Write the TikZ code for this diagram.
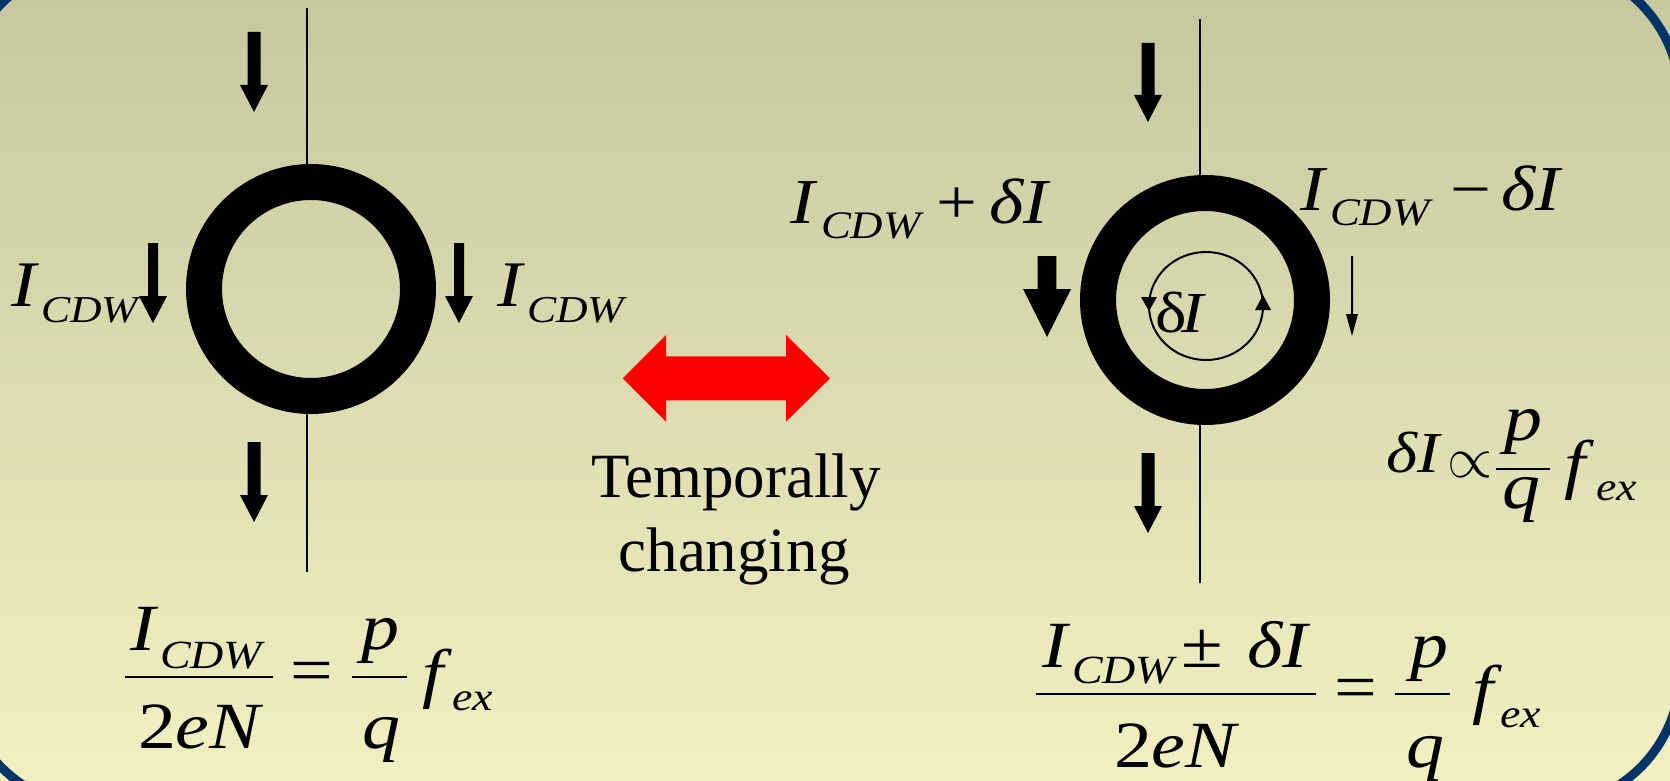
\RequirePackage{fix-cm}
\documentclass[tikz,border=0pt]{standalone}
\usepackage{fontspec}
\setmainfont{Liberation Serif}
\usetikzlibrary{arrows.meta}
\definecolor{bgtop}{RGB}{199,200,160}
\definecolor{bgbot}{RGB}{242,240,193}
\definecolor{frameblue}{RGB}{0,51,102}
% horizontally stretched math-like text: italic / upright
\newcommand\SX[1]{\scalebox{1.15}[1]{#1}}
\newcommand\MI[2]{\SX{\fontsize{#1}{#1}\selectfont\itshape #2}}
\newcommand\MU[2]{\SX{\fontsize{#1}{#1}\selectfont #2}}
% x, ytop, ytip, shaft half width, head half width, head length
\newcommand\BlockDown[6]{%
  \fill ({#1-#4},#2) -- ({#1+#4},#2) -- ({#1+#4},{#3-#6}) -- ({#1+#5},{#3-#6})
     -- (#1,#3) -- ({#1-#5},{#3-#6}) -- ({#1-#4},{#3-#6}) -- cycle;}
\begin{document}
\begin{tikzpicture}[x=1pt,y=-1pt,
  txt/.style={anchor=base west,inner sep=0pt,outer sep=0pt},
  ctxt/.style={anchor=base,inner sep=0pt,outer sep=0pt},
  wire/.style={line width=2.5pt},
  fbar/.style={line width=2.6pt},
  ring/.style={circle,draw=black,line width=36pt,minimum size=214pt,inner sep=0pt},
  loopline/.style={line width=2pt}]
\useasboundingbox (0,0) rectangle (1670,781);
\shade[top color=bgtop,bottom color=bgbot] (0,0) rectangle (1670,781);
\draw[frameblue,line width=9pt,rounded corners=135pt] (-38,-36) rectangle (1680,807);

% wires
\coordinate (wLt) at (307,8);  \coordinate (wLm) at (307,185);
\coordinate (wLn) at (307,395); \coordinate (wLb) at (307,572);
\coordinate (wRt) at (1200,19); \coordinate (wRm) at (1200,195);
\coordinate (wRn) at (1200,405); \coordinate (wRb) at (1200,583);
\draw[wire] (wLt) -- (wLm);
\draw[wire] (wLn) -- (wLb);
\draw[wire] (wRt) -- (wRm);
\draw[wire] (wRn) -- (wRb);
\node[ring] (ringL) at (311,289) {};
\node[ring] (ringR) at (1205,300) {};

% block arrows
\BlockDown{254}{32}{112}{6.5}{14}{27}
\BlockDown{254}{442}{522}{6.5}{14}{27}
\BlockDown{1148}{43}{122}{6.5}{14}{27}
\BlockDown{1148}{453}{533}{6.5}{14}{27}
\BlockDown{153}{243}{323}{5}{14}{27}
\BlockDown{459}{243}{323}{5}{14}{27}
\BlockDown{1047}{256}{337}{9.3}{24}{48}
\BlockDown{1352}{256}{336}{1}{6}{22}

% red double arrow
\fill[red] (622.7,378.3) -- (666,335) -- (666,356.3) -- (786,356.3) -- (786,335)
  -- (830,378.3) -- (786,421.7) -- (786,400.3) -- (666,400.3) -- (666,421.7) -- cycle;
\node[ctxt,font=\fontsize{63}{63}\selectfont] (tmp1) at (736,497) {Temporally};
\node[ctxt,font=\fontsize{63}{63}\selectfont] (tmp2) at (734,571) {changing};

% loop delta I
\coordinate (loopc) at (1206,306);
\draw[loopline] (loopc) ellipse[x radius=57, y radius=54];
\fill (1141,297) -- (1157,297) -- (1149,311) -- cycle;
\fill (1255,310) -- (1271,310) -- (1263,295) -- cycle;
\node[txt] (dId) at (1155,332) {\MU{58}{δ}};
\node[txt] (dII) at (1181,332) {\MI{58}{I}};

% labels beside the left ring
\node[txt] (lLI) at (12,306) {\MI{65}{I}};
\node[txt] (lLs) at (41,322) {\MI{38}{CDW}};
\node[txt] (rLI) at (497,306) {\MI{65}{I}};
\node[txt] (rLs) at (527,322) {\MI{38}{CDW}};

% labels beside the right ring
\node[txt] (pI) at (790,223) {\MI{64}{I}};
\node[txt] (ps) at (821,238) {\MI{39}{CDW}};
\node[txt] (pp) at (936,223) {\MU{63}{+}};
\node[txt] (pd) at (989,223) {\MI{64}{δI}};
\node[txt] (mI) at (1300,210) {\MI{64}{I}};
\node[txt] (ms) at (1330,225) {\MI{39}{CDW}};
\node[txt] (mm) at (1450,210) {\MU{63}{−}};
\node[txt] (md) at (1501,210) {\MI{64}{δI}};

% delta I proportional to p/q f_ex
\node[txt] (prD) at (1386,472) {\MI{58}{δI}};
\node[inner sep=0pt] (prP) at (1470,465) {\fontsize{58}{58}\selectfont$\propto$};
\node[txt] (prp) at (1504,440) {\MI{66}{p}};
\coordinate (prb1) at (1496,469); \coordinate (prb2) at (1550,469);
\draw[fbar] (prb1) -- (prb2);
\node[txt] (prq) at (1502,508) {\MI{66}{q}};
\node[txt] (prf) at (1564,486) {\MI{66}{f}};
\node[txt] (prex) at (1596,500) {\MI{40}{ex}};

% left formula
\node[txt] (numI) at (130,650) {\MI{66}{I}};
\node[txt] (numS) at (160,668) {\MI{40}{CDW}};
\coordinate (bL1) at (125,677); \coordinate (bL2) at (273,677);
\draw[fbar] (bL1) -- (bL2);
\node[txt] (denL) at (138,748) {\MU{66}{2\itshape eN}};
\node[inner sep=0pt] (eqL) at (311.5,677) {\MU{66}{=}};
\node[txt] (pL) at (361,649) {\MI{66}{p}};
\coordinate (bL3) at (352,677); \coordinate (bL4) at (407,677);
\draw[fbar] (bL3) -- (bL4);
\node[txt] (qL) at (362,748) {\MI{66}{q}};
\node[txt] (fL) at (422,695) {\MI{66}{f}};
\node[txt] (exL) at (452,710) {\MI{40}{ex}};

% right formula
\node[txt] (nRI) at (1042,667) {\MI{66}{I}};
\node[txt] (nRS) at (1072,683) {\MI{40}{CDW}};
\node[txt] (nRpm) at (1181,667) {\MU{66}{±}};
\node[txt] (nRd) at (1247,667) {\MI{66}{δI}};
\coordinate (bR1) at (1036,694); \coordinate (bR2) at (1316,694);
\draw[fbar] (bR1) -- (bR2);
\node[txt] (denR) at (1114,767) {\MU{66}{2\itshape eN}};
\node[inner sep=0pt] (eqR) at (1355.5,694) {\MU{66}{=}};
\node[txt] (pR) at (1410,667) {\MI{66}{p}};
\coordinate (bR3) at (1395,694); \coordinate (bR4) at (1450,694);
\draw[fbar] (bR3) -- (bR4);
\node[txt] (qR) at (1406,767) {\MI{66}{q}};
\node[txt] (fR) at (1472,711) {\MI{66}{f}};
\node[txt] (exR) at (1500,727) {\MI{40}{ex}};
\end{tikzpicture}
\end{document}
